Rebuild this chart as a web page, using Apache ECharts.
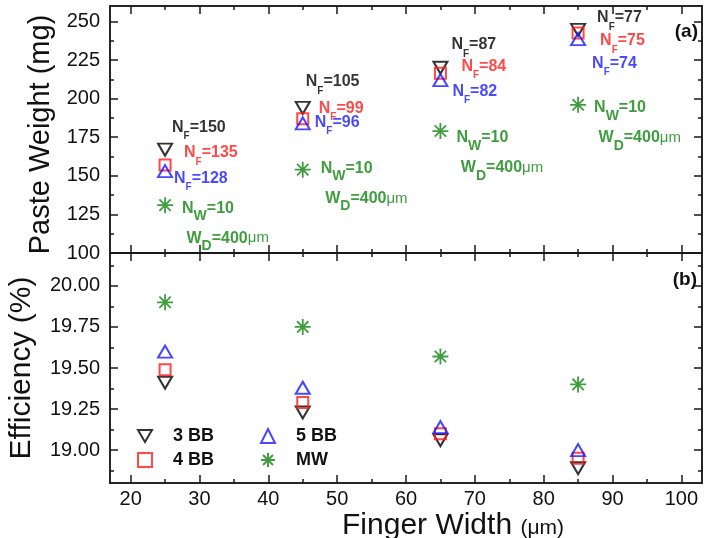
<!DOCTYPE html>
<html>
<head>
<meta charset="utf-8">
<script src="https://cdn.jsdelivr.net/npm/echarts@6/dist/echarts.min.js"></script>
<style>
  html, body { margin: 0; padding: 0; background: #fff; }
  #chart { width: 705px; height: 538px; }
</style>
</head>
<body>
<div id="chart"></div>
<script>
// finger width (um)
var widths = [25, 45, 65, 85];

// (a) paste weight, mg
var weight3BB = [167, 194, 220, 244.5];
var weight4BB = [157, 187, 216.5, 242.5];
var weight5BB = [153, 184, 212, 238.5];
var weightMW = [131, 154, 179, 196];

// (b) efficiency, %
var eff3BB = [19.41, 19.23, 19.06, 18.89];
var eff4BB = [19.49, 19.29, 19.10, 18.95];
var eff5BB = [19.60, 19.38, 19.14, 19.00];
var effMW = [19.90, 19.75, 19.57, 19.40];

// number of fingers / wires
var nf3BB = [150, 105, 87, 77];
var nf4BB = [135, 99, 84, 75];
var nf5BB = [128, 96, 82, 74];
var nwMW = 10;
var wdMW = 400;

// ticks
var xTicks = [20, 30, 40, 50, 60, 70, 80, 90, 100];
var xMinor = [25, 35, 45, 55, 65, 75, 85, 95];
var weightTicks = [100, 125, 150, 175, 200, 225, 250];
var weightMinor = [112.5, 137.5, 162.5, 187.5, 212.5, 237.5];
var effTicks = [19.00, 19.25, 19.50, 19.75, 20.00];
var effMinor = [18.875, 19.125, 19.375, 19.625, 19.875, 20.125];

// label offsets in px (layout only)
var off3 = [[7, -22], [3, -26], [11, -23], [19, -12]];
var off4 = [[19, -12], [16, -10], [21, -7], [22, 8]];
var off5 = [[9, 7], [12, -1], [12, 11], [14, 24]];
var offMW = [[17, 18], [18, 14], [16, 22], [16, 18]];

var BLACK = '#000000', RED = '#ff1a1a', BLUE = '#1a1aff', GREEN = '#0f850f';
var FONT = 'Liberation Sans, Arial, sans-serif';
var AX = { color: '#1a1a1a', width: 1.5 };
var DOWN = 'path://M0,0L14,0L7,12Z';
var STAR = 'path://M10,0L10,20M0,10L20,10M2.9,2.9L17.1,17.1M2.9,17.1L17.1,2.9';

var xRange = { min: 17, max: 103 };
var wRange = { min: 100, max: 260 };
var eRange = { min: 18.8, max: 20.2 };

function axis(range, grid, pos, ticks, len, label) {
  return {
    type: 'value', gridIndex: grid, position: pos,
    min: range.min, max: range.max,
    axisLine: { show: true, onZero: false, lineStyle: AX },
    axisTick: { show: true, inside: true, length: len, customValues: ticks, lineStyle: AX },
    axisLabel: label ? Object.assign({ customValues: ticks, fontFamily: FONT, fontSize: 20, color: '#111' }, label) : { show: false },
    splitLine: { show: false }
  };
}

var rich = {
  n: { fontFamily: FONT, fontWeight: 'bold', fontSize: 16, lineHeight: 30 },
  s: { fontFamily: FONT, fontWeight: 'bold', fontSize: 10, lineHeight: 12, padding: [18, 0, 0, 0] },
  w: { fontFamily: FONT, fontWeight: 'bold', fontSize: 14, lineHeight: 14, padding: [16, 0, 0, 0] },
  u: { fontFamily: FONT, fontSize: 15, lineHeight: 30 }
};

function nfPoints(xs, ys, nfs, offs, color) {
  return xs.map(function (x, i) {
    return {
      value: [x, ys[i]],
      label: {
        show: true, position: 'inside', align: 'left', verticalAlign: 'middle',
        offset: offs[i], color: color, rich: rich,
        formatter: '{n|N}{s|F}{n|=' + nfs[i] + '}'
      }
    };
  });
}

function mwPoints(xs, ys, offs) {
  return xs.map(function (x, i) {
    return {
      value: [x, ys[i]],
      label: {
        show: true, position: 'inside', align: 'left', verticalAlign: 'middle',
        offset: offs[i], color: GREEN, rich: rich,
        formatter: '{n|N}{w|W}{n|=' + nwMW + '}\n{n| W}{w|D}{n|=' + wdMW + '}{u|\u03bcm}'
      }
    };
  });
}

function pts(xs, ys) { return xs.map(function (x, i) { return [x, ys[i]]; }); }

var styles = {
  '3 BB': { symbol: DOWN, symbolSize: [14, 12], itemStyle: { color: 'rgba(0,0,0,0)', borderColor: BLACK, borderWidth: 2 } },
  '4 BB': { symbol: 'rect', symbolSize: 11, itemStyle: { color: 'rgba(0,0,0,0)', borderColor: RED, borderWidth: 2 } },
  '5 BB': { symbol: 'triangle', symbolSize: [14, 12], itemStyle: { color: 'rgba(0,0,0,0)', borderColor: BLUE, borderWidth: 2 } },
  'MW': { symbol: STAR, symbolSize: 16, itemStyle: { color: 'rgba(0,0,0,0)', borderColor: GREEN, borderWidth: 1.8 } }
};

function scatter(name, xi, yi, data) {
  var s = styles[name];
  return {
    name: name, type: 'scatter', xAxisIndex: xi, yAxisIndex: yi,
    symbol: s.symbol, symbolSize: s.symbolSize,
    itemStyle: s.itemStyle, data: data, z: 3
  };
}

var legendText = { fontFamily: FONT, fontWeight: 'bold', fontSize: 18, color: '#111', padding: [0, 0, 0, 16] };

var chart = echarts.init(document.getElementById('chart'));
chart.setOption({
  animation: false,
  textStyle: { fontFamily: FONT },
  title: [
    { text: '(a)', right: 7, top: 22, padding: 0, textStyle: { fontFamily: FONT, fontWeight: 'bold', fontSize: 19, color: '#111' } },
    { text: '(b)', right: 8, top: 270, padding: 0, textStyle: { fontFamily: FONT, fontWeight: 'bold', fontSize: 19, color: '#111' } }
  ],
  grid: [
    { left: 110, right: 3, top: 6, height: 247, outerBoundsMode: 'none' },
    { left: 110, right: 3, top: 253, height: 230, outerBoundsMode: 'none' }
  ],
  legend: [
    { data: ['3 BB', '4 BB'], orient: 'vertical', left: 132, top: 422, itemWidth: 14, itemHeight: 14, itemGap: 6, textStyle: legendText },
    { data: ['5 BB', 'MW'], orient: 'vertical', left: 255, top: 422, itemWidth: 14, itemHeight: 14, itemGap: 6, textStyle: legendText }
  ],
  xAxis: [
    axis(xRange, 0, 'bottom', xTicks, 8),
    axis(xRange, 0, 'bottom', xMinor, 4),
    axis(xRange, 0, 'top', xTicks, 8),
    axis(xRange, 0, 'top', xMinor, 4),
    Object.assign(axis(xRange, 1, 'bottom', xTicks, 8, { margin: 6 }), {
      name: '{a|Finger Width }{b|(\u03bcm)}', nameLocation: 'middle', nameGap: 28,
      nameTextStyle: { padding: [0, 0, 0, 94], rich: {
        a: { fontFamily: FONT, fontSize: 30, color: '#111' },
        b: { fontFamily: FONT, fontSize: 21, color: '#111', padding: [4, 0, 0, 0] }
      } }
    }),
    axis(xRange, 1, 'bottom', xMinor, 4),
    axis(xRange, 1, 'top', xTicks, 8),
    axis(xRange, 1, 'top', xMinor, 4)
  ],
  yAxis: [
    Object.assign(axis(wRange, 0, 'left', weightTicks, 8, { margin: 10 }), {
      name: 'Paste Weight (mg)', nameLocation: 'middle', nameGap: 55,
      nameTextStyle: { fontFamily: FONT, fontSize: 29, color: '#111', padding: [0, 10, 0, 0] }
    }),
    axis(wRange, 0, 'left', weightMinor, 4),
    axis(wRange, 0, 'right', weightTicks, 8),
    axis(wRange, 0, 'right', weightMinor, 4),
    Object.assign(axis(eRange, 1, 'left', effTicks, 8, { margin: 10, formatter: function (v) { return v.toFixed(2); } }), {
      name: 'Efficiency (%)', nameLocation: 'middle', nameGap: 73,
      nameTextStyle: { fontFamily: FONT, fontSize: 30, color: '#111' }
    }),
    axis(eRange, 1, 'left', effMinor, 4),
    axis(eRange, 1, 'right', effTicks, 8),
    axis(eRange, 1, 'right', effMinor, 4)
  ],
  series: [
    scatter('3 BB', 0, 0, nfPoints(widths, weight3BB, nf3BB, off3, BLACK)),
    scatter('4 BB', 0, 0, nfPoints(widths, weight4BB, nf4BB, off4, RED)),
    scatter('5 BB', 0, 0, nfPoints(widths, weight5BB, nf5BB, off5, BLUE)),
    scatter('MW', 0, 0, mwPoints(widths, weightMW, offMW)),
    scatter('3 BB', 4, 4, pts(widths, eff3BB)),
    scatter('4 BB', 4, 4, pts(widths, eff4BB)),
    scatter('5 BB', 4, 4, pts(widths, eff5BB)),
    scatter('MW', 4, 4, pts(widths, effMW))
  ]
});
</script>
</body>
</html>
